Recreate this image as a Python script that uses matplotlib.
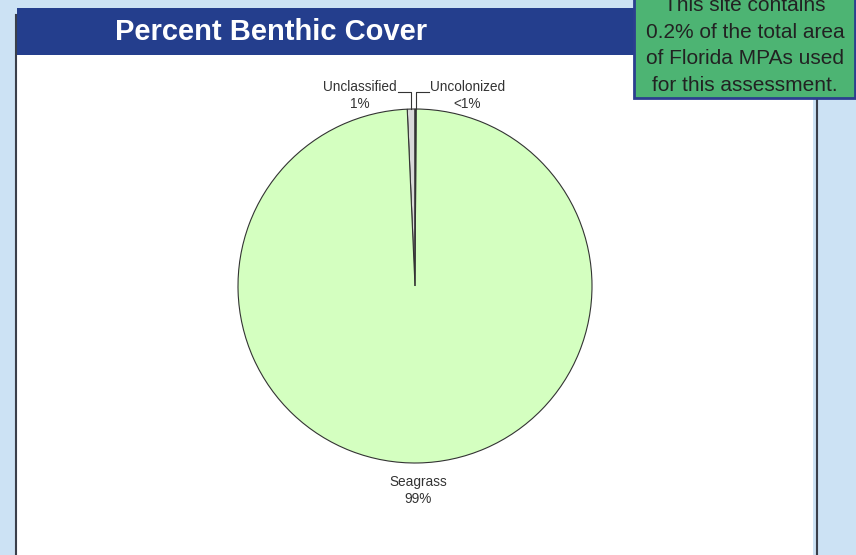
import numpy as np
import matplotlib
matplotlib.use('Agg')
import matplotlib.pyplot as plt
from matplotlib.patches import Rectangle

plt.rcParams['font.family'] = ['Liberation Sans', 'DejaVu Sans']

# данные
categories = ['Unclassified', 'Seagrass', 'Uncolonized']
shares = [0.7, 99.2, 0.1]
share_labels = ['1%', '99%', '<1%']
colors = ['#d9d9d9', '#d4ffc0', '#d9d9d9']

title = 'Percent Benthic Cover'
note = 'This site contains\n0.2% of the total area\nof Florida MPAs used\nfor this assessment.'

W, H = 856, 555
fig = plt.figure(figsize=(W / 100, H / 100), dpi=100)
fig.patch.set_facecolor('#cce2f4')

# фон в пиксельных координатах
bg = fig.add_axes([0, 0, 1, 1])
bg.set_xlim(0, W)
bg.set_ylim(H, 0)
bg.axis('off')

bg.plot([16.5, 16.5], [15, H], color='#3a3f4a', lw=1.5)
bg.plot([817, 817], [99, H], color='#3a3f4a', lw=1.5)
bg.add_patch(Rectangle((17, 8), 796, H, facecolor='white', edgecolor='none'))
bg.add_patch(Rectangle((17, 8), 796, 47, facecolor='#243e8d', edgecolor='none'))
bg.text(271, 32, title, color='white', fontsize=21, fontweight='bold',
        ha='center', va='center')

# зелёная плашка с примечанием (верх обрезан, как в оригинале)
bg.add_patch(Rectangle((634, -5), 221, 103, facecolor='#4db473',
                       edgecolor='#2b3f8f', lw=2, zorder=3))
bg.text(745, 45.5, note, color='#222222', fontsize=15, ha='center',
        va='center', linespacing=1.5, zorder=4, clip_on=True)

# круговая диаграмма
cx, cy, r = 415, 286, 177
ax = fig.add_axes([(cx - r) / W, (H - cy - r) / H, 2 * r / W, 2 * r / H])
wedges, _ = ax.pie(shares, colors=colors, startangle=90, counterclock=True,
                   wedgeprops=dict(edgecolor='#333333', linewidth=0.8))
ax.set_xlim(-1, 1)
ax.set_ylim(-1, 1)
ax.set_aspect('equal')
ax.axis('off')

for w, name, lab in zip(wedges, categories, share_labels):
    mid = np.deg2rad((w.theta1 + w.theta2) / 2)
    x, y = np.cos(mid), np.sin(mid)
    text = f'{name}\n{lab}'
    if y < 0.9:
        ax.text(x, y - 0.07, text, ha='center', va='top', fontsize=9.8,
                color='#333333', linespacing=1.2)
        continue
    side = -1 if x < 0 else 1
    elbow_y = 1.096
    end_x = x + side * 0.075
    ax.plot([x, x, end_x], [y, elbow_y, elbow_y], color='#333333', lw=0.8,
            clip_on=False)
    ax.text(end_x + side * 0.005, elbow_y - 0.02, text,
            ha='left' if side > 0 else 'right', va='center', fontsize=9.8,
            color='#333333', linespacing=1.2, multialignment='center')

fig.savefig('out.png', dpi=100)
